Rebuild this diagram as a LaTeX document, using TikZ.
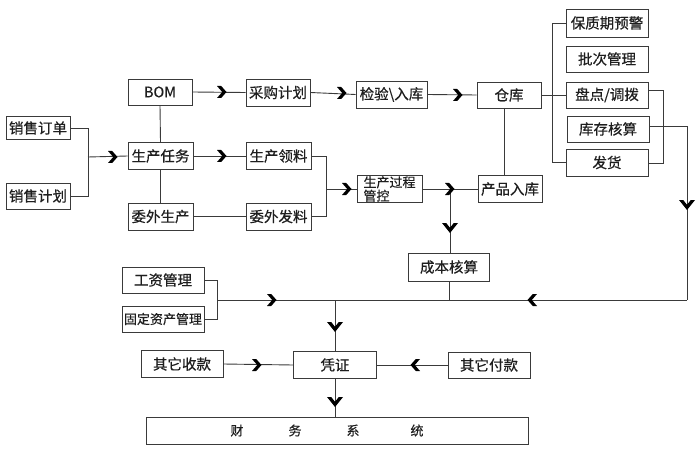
\documentclass[tikz,border=0pt]{standalone}
\usepackage{fontspec}
\setmainfont[FakeBold=0.5]{Noto Sans CJK SC}
\definecolor{linec}{HTML}{3A3A3A}
\definecolor{txtc}{HTML}{1E1E1E}
\tikzset{
  bx/.style={draw=linec, line width=0.9pt, inner sep=0pt, text=txtc,
    font=\fontsize{14.5}{16}\selectfont, minimum height=26pt},
  ln/.style={draw=linec, line width=0.9pt},
  chev/.pic={\fill[black] (-5,-6) -- (-0.8,-6) -- (4.5,0) -- (-0.8,6) -- (-5,6) -- (0.2,0) -- cycle;},
  chevd/.pic={\fill[black] (-8,-5) -- (-3.8,-5) -- (0,-0.2) -- (3.8,-5) -- (8,-5) -- (0,5) -- cycle;}
}
\begin{document}
\begin{tikzpicture}[x=1pt,y=-1pt]
\useasboundingbox (0,0) rectangle (698,449);
% nodes
\node[bx, minimum width=64pt, minimum height=23pt] (dd) at (38,128) {销售订单};
\node[bx, minimum width=64pt] (jh) at (38,196) {销售计划};
\node[bx, minimum width=64pt] (bom) at (160,92) {BOM};
\node[bx, minimum width=65pt, minimum height=27pt] (rw) at (160.5,156) {生产任务};
\node[bx, minimum width=65pt, minimum height=27pt] (ww) at (160.5,216.5) {委外生产};
\node[bx, minimum width=64pt, minimum height=27pt] (cg) at (278,92.5) {采购计划};
\node[bx, minimum width=65pt, minimum height=27pt] (ll) at (278.5,156) {生产领料};
\node[bx, minimum width=65pt, minimum height=27pt] (wf) at (278.5,216.5) {委外发料};
\node[bx, minimum width=71pt, minimum height=27pt] (jy) at (391.5,94.5) {检验\textbackslash 入库};
\node[bx, minimum width=64pt] (ck) at (509,95) {仓库};
\node[bx, minimum width=65pt, minimum height=27pt, align=left,
      font=\fontsize{13}{13.5}\selectfont] (gk) at (389.5,189) {生产过程\\管控\hspace*{26pt}};
\node[bx, minimum width=64pt, minimum height=27pt] (cp) at (510,189) {产品入库};
\node[bx, minimum width=82pt, minimum height=28pt] (bz) at (607,23) {保质期预警};
\node[bx, minimum width=82pt] (pc) at (607,59) {批次管理};
\node[bx, minimum width=82pt] (pd) at (607,95) {盘点/调拨};
\node[bx, minimum width=82pt] (kc) at (608,129) {库存核算};
\node[bx, minimum width=82pt, minimum height=27pt] (fh) at (607,162.5) {发货};
\node[bx, minimum width=81pt, minimum height=28pt] (cb) at (449,267) {成本核算};
\node[bx, minimum width=82pt] (gz) at (163,280) {工资管理};
\node[bx, minimum width=82pt, font=\fontsize{13}{14}\selectfont] (gd) at (163,319) {固定资产管理};
\node[bx, minimum width=83pt, minimum height=27pt] (pz) at (335,365) {凭证};
\node[bx, minimum width=82pt, minimum height=27pt] (sk) at (182,364) {其它收款};
\node[bx, minimum width=82pt] (fk) at (489,365) {其它付款};
\node[bx, minimum width=382pt, minimum height=27pt, font=\fontsize{13}{14}\selectfont] (cw) at (337,430.5)
  {财\hspace{45pt}务\hspace{45pt}系\hspace{51pt}统\hspace*{20pt}};
% junction coordinates
\coordinate (j1) at (88,157);
\coordinate (j2) at (326,189);
\coordinate (j3) at (552,95);
\coordinate (j4) at (450,189);
\coordinate (j5) at (217,300);
\coordinate (j6) at (687,300);
\coordinate (j7) at (335,300);
% connectors
\draw[ln] (dd.east) -| (j1);
\draw[ln] (jh.east) -| (j1);
\draw[ln] (j1) -- (rw.west);
\draw[ln] (bom.south) -- (rw.north);
\draw[ln] (rw.south) -- (ww.north);
\draw[ln] (bom.east) -- (cg.west);
\draw[ln] (rw.east) -- (ll.west);
\draw[ln] (ww.east) -- (wf.west);
\draw[ln] (ll.east) -| (j2);
\draw[ln] (wf.east) -| (j2);
\draw[ln] (j2) -- (gk.west);
\draw[ln] (cg.east) -- (jy.west);
\draw[ln] (jy.east) -- (ck.west);
\draw[ln] (ck.east) -- (pd.west);
\draw[ln] (bz.west) -| (j3);
\draw[ln] (fh.west) -| (j3);
\draw[ln] (pd.east |- 0,90) -- (663,90) -- (663,163) -- (fh.east |- 0,163);
\draw[ln] (kc.east |- 0,126) -| (j6);
\draw[ln] (j6) -- (j5);
\draw[ln] (gz.east) -| (j5);
\draw[ln] (gd.east) -| (j5);
\draw[ln] (504,108) -- (cp.north -| 504,0);
\draw[ln] (gk.east) -- (cp.west);
\draw[ln] (j4) -- (cb.north -| j4);
\draw[ln] (cb.south) -- (cb.south |- j5);
\draw[ln] (j7) -- (pz.north);
\draw[ln] (sk.east) -- (pz.west);
\draw[ln] (fk.west) -- (pz.east);
\draw[ln] (pz.south) -- (cw.north -| pz.south);
% chevrons
\pic at (113,157) {chev};
\pic at (222,92) {chev};
\pic at (222,156) {chev};
\pic at (347,189) {chev};
\pic at (342,93) {chev};
\pic at (458,95) {chev};
\pic at (450,189) {chev};
\pic at (450,228) {chevd};
\pic at (687,205) {chevd};
\pic[rotate=180] at (532,300) {chev};
\pic at (272,300) {chev};
\pic at (335,327) {chevd};
\pic at (257,365) {chev};
\pic[rotate=180] at (415,365) {chev};
\pic at (335,402) {chevd};
\end{tikzpicture}
\end{document}
